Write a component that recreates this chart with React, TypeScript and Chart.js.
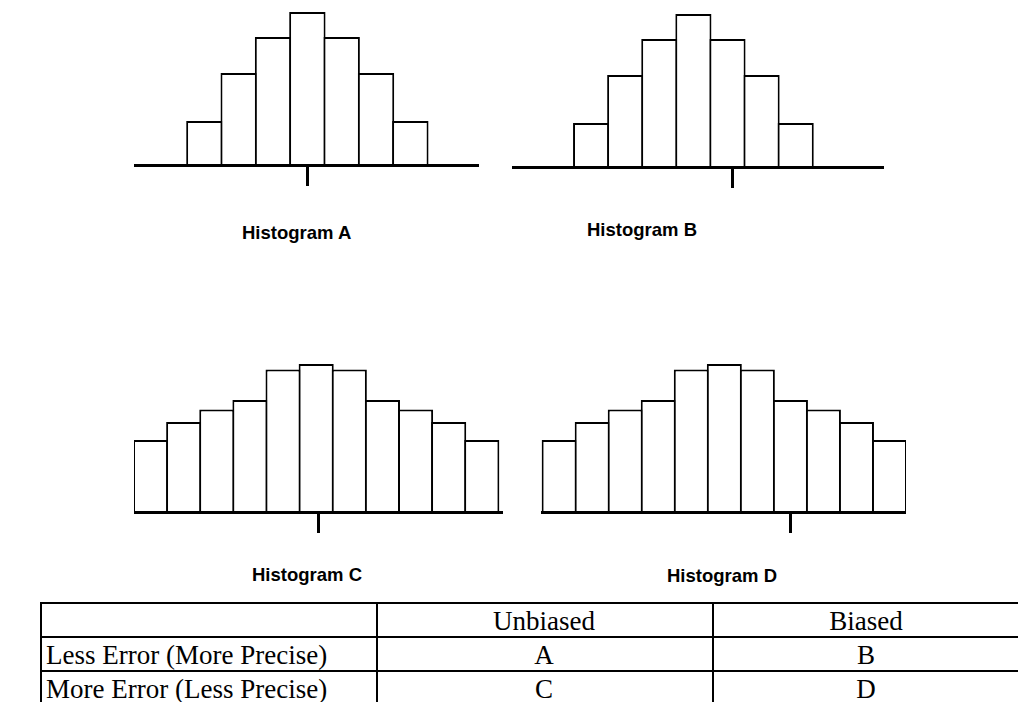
import React, { useEffect, useRef } from "react";
import { Chart, registerables } from "chart.js";

Chart.register(...registerables);

// ---- data ----
const binsNarrow = [0, 1, 2, 3, 4, 5, 6];
const freqNarrow = [4.4, 9.2, 12.8, 15.3, 12.8, 9.2, 4.4];
const binsWide = [0, 1, 2, 3, 4, 5, 6, 7, 8, 9, 10];
const freqWide = [7.2, 9.0, 10.25, 11.2, 14.25, 14.8, 14.25, 11.2, 10.25, 9.0, 7.2];
const trueValueA = 3.0;
const trueValueB = 4.14;
const trueValueC = 5.06;
const trueValueD = 7.0;
const histogramTitles = ["Histogram A", "Histogram B", "Histogram C", "Histogram D"];
const tableHeader = ["", "Unbiased", "Biased"];
const tableRowLabels = ["Less Error (More Precise)", "More Error (Less Precise)"];
const tableCells = [
  ["A", "B"],
  ["C", "D"],
];

const Y_MAX = 16;
const PAD_TOP = 4;
const AREA_H = 160;
const TICK_LEN = 21;
const PAD_BOTTOM = 4;

type HistProps = {
  bins: number[];
  freq: number[];
  truth: number;
  xMin: number;
  xMax: number;
  left: number;
  right: number;
  baseline: number;
};

function Histogram({ bins, freq, truth, xMin, xMax, left, right, baseline }: HistProps) {
  const ref = useRef<HTMLCanvasElement | null>(null);
  const width = right - left;
  const height = PAD_TOP + AREA_H + TICK_LEN + PAD_BOTTOM;
  const top = baseline - PAD_TOP - AREA_H;

  useEffect(() => {
    if (!ref.current) return;
    const chart = new Chart(ref.current, {
      type: "bar",
      data: {
        datasets: [
          {
            data: bins.map((b, i) => ({ x: b, y: freq[i] })),
            backgroundColor: "#ffffff",
            borderColor: "#000000",
            borderWidth: 2,
            borderSkipped: "bottom",
            barPercentage: 1.06,
            categoryPercentage: 1,
            inflateAmount: 0,
          } as any,
        ],
      },
      options: {
        animation: false,
        responsive: false,
        devicePixelRatio: 1,
        events: [],
        layout: { padding: { top: PAD_TOP, bottom: PAD_BOTTOM, left: 0, right: 0 } },
        plugins: {
          legend: { display: false },
          tooltip: { enabled: false },
          title: { display: false },
        },
        scales: {
          x: {
            type: "linear",
            min: xMin,
            max: xMax,
            offset: false,
            afterBuildTicks: (scale: any) => {
              scale.ticks = [{ value: truth }];
            },
            ticks: { display: false },
            grid: {
              display: true,
              offset: false,
              drawOnChartArea: false,
              drawTicks: true,
              tickLength: TICK_LEN,
              color: "#000000",
              lineWidth: 3,
              z: 1,
            },
            border: { display: true, color: "#000000", width: 3, z: 1 },
          },
          y: {
            display: false,
            min: 0,
            max: Y_MAX,
          },
        },
      } as any,
    });
    return () => chart.destroy();
  }, [bins, freq, truth, xMin, xMax]);

  return (
    <canvas
      ref={ref}
      width={width}
      height={height}
      style={{ position: "absolute", left, top, width, height, display: "block" }}
    />
  );
}

const titleStyle: React.CSSProperties = {
  position: "absolute",
  fontFamily: "'Liberation Sans', Arial, sans-serif",
  fontWeight: "bold",
  fontSize: "18.5px",
  lineHeight: "18.5px",
  whiteSpace: "nowrap",
  color: "#000",
};

const cellText: React.CSSProperties = {
  position: "absolute",
  fontFamily: "'Liberation Serif', 'Times New Roman', serif",
  fontSize: "27px",
  lineHeight: "34px",
  height: 34,
  whiteSpace: "nowrap",
  color: "#000",
};

export default function App() {
  const rowLines = [602, 636, 670, 704];
  const colLines = [40, 376, 712];
  const tableRight = 1018;
  const colCenters = [544, 866];
  return (
    <div
      style={{
        position: "absolute",
        left: 0,
        top: 0,
        width: 1018,
        height: 702,
        overflow: "hidden",
        background: "#fff",
      }}
    >
      <Histogram bins={binsNarrow} freq={freqNarrow} truth={trueValueA} xMin={-2.05} xMax={8.0} left={134} right={479} baseline={165} />
      <Histogram bins={binsNarrow} freq={freqNarrow} truth={trueValueB} xMin={-2.32} xMax={8.59} left={512} right={884} baseline={167} />
      <Histogram bins={binsWide} freq={freqWide} truth={trueValueC} xMin={-0.5} xMax={10.64} left={134} right={503} baseline={512} />
      <Histogram bins={binsWide} freq={freqWide} truth={trueValueD} xMin={-0.55} xMax={10.5} left={541} right={906} baseline={512} />

      <div style={{ ...titleStyle, left: 242, top: 224 }}>{histogramTitles[0]}</div>
      <div style={{ ...titleStyle, left: 587, top: 221 }}>{histogramTitles[1]}</div>
      <div style={{ ...titleStyle, left: 252, top: 566 }}>{histogramTitles[2]}</div>
      <div style={{ ...titleStyle, left: 667, top: 567 }}>{histogramTitles[3]}</div>

      {rowLines.map((y, i) => (
        <div key={"h" + i} style={{ position: "absolute", left: colLines[0], top: y, width: tableRight - colLines[0], height: 2, background: "#000" }} />
      ))}
      {colLines.map((x, i) => (
        <div key={"v" + i} style={{ position: "absolute", left: x, top: rowLines[0], width: 2, height: 702 - rowLines[0], background: "#000" }} />
      ))}

      {tableHeader.slice(1).map((h, j) => (
        <div key={"th" + j} style={{ ...cellText, top: rowLines[0] + 2, left: colCenters[j] - 150, width: 300, textAlign: "center" }}>
          {h}
        </div>
      ))}
      {tableRowLabels.map((lab, i) => (
        <React.Fragment key={"r" + i}>
          <div style={{ ...cellText, top: rowLines[i + 1] + 2, left: colLines[0] + 6 }}>{lab}</div>
          {tableCells[i].map((c, j) => (
            <div key={"c" + j} style={{ ...cellText, top: rowLines[i + 1] + 2, left: colCenters[j] - 150, width: 300, textAlign: "center" }}>
              {c}
            </div>
          ))}
        </React.Fragment>
      ))}
    </div>
  );
}
